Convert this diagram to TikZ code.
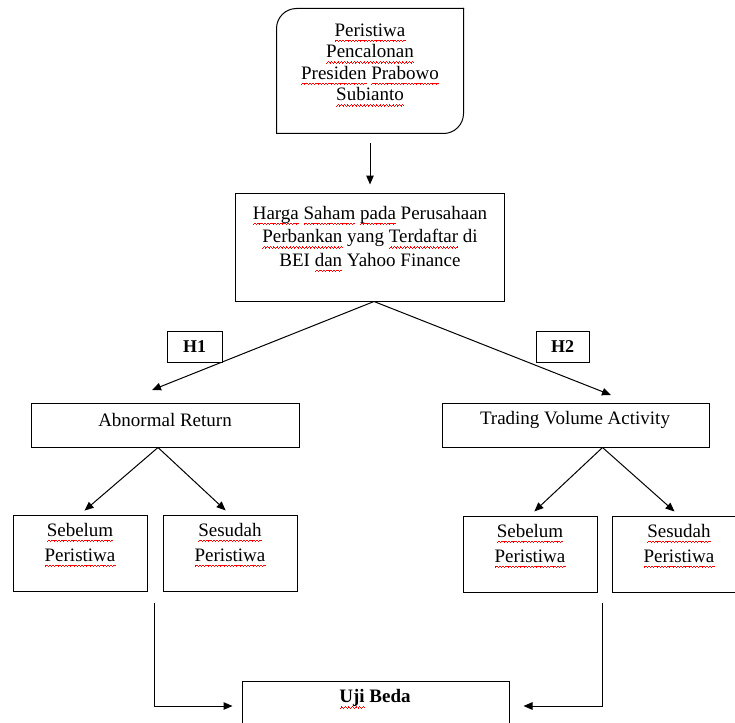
\documentclass[tikz,border=0pt]{standalone}
\usepackage{fontspec}
\setmainfont{Liberation Serif}
\usetikzlibrary{arrows.meta}
\newsavebox\kata
\newcommand\gelombang{\hbox{\rule[-5.6pt]{0.8pt}{0.8pt}\rule[-4.9pt]{0.8pt}{0.8pt}\rule[-4.2pt]{0.8pt}{0.8pt}\rule[-4.9pt]{0.8pt}{0.8pt}}}
\newcommand\salah[1]{\sbox\kata{#1}\rlap{\color{red}\hbox to\wd\kata{\xleaders\gelombang\hfil}}\usebox\kata}

\begin{document}
\begin{tikzpicture}[x=1pt, y=-1pt, line width=1pt,
  kotak/.style={draw, fill=white, inner sep=0pt, anchor=center},
  teks/.style={anchor=center, inner sep=0pt, align=center, font=\fontsize{19}{21.5}\selectfont},
  panah/.style={-{Triangle[length=9pt,width=7.5pt]}}]

  %% ════ 方框 ════
  \node[kotak, draw=none, minimum width=186pt, minimum height=124pt] (peristiwa) at (370,71) {};
  \draw[rounded corners=20pt, line cap=rect] (peristiwa.south west) -- (peristiwa.north west) -- (peristiwa.north east);
  \draw[rounded corners=20pt, line cap=rect] (peristiwa.north east) -- (peristiwa.south east) -- (peristiwa.south west);
  \node[kotak, minimum width=269pt, minimum height=108pt] (harga) at (370,247) {};
  \node[kotak, minimum width=268pt, minimum height=44pt] (ar) at (165,425) {};
  \node[kotak, minimum width=267pt, minimum height=44pt] (tva) at (575.5,425) {};
  \node[kotak, minimum width=134pt, minimum height=76pt] (sb1) at (80,553) {};
  \node[kotak, minimum width=134pt, minimum height=76pt] (ss1) at (230,553) {};
  \node[kotak, minimum width=134pt, minimum height=76pt] (sb2) at (530,554) {};
  \node[kotak, minimum width=134pt, minimum height=76pt] (ss2) at (679,554) {};
  \node[kotak, minimum width=267pt, minimum height=50pt] (uji) at (375.5,706) {};

  %% ════ 箭头 ════
  \coordinate (ujungH1) at (152,390);
  \coordinate (ujungH2) at (611,395);
  \coordinate (turunKiri) at (154,603);
  \coordinate (turunKanan) at (602,603);
  \draw[panah, shorten <=10pt, shorten >=8pt] (peristiwa.south) -- (harga.north);
  \draw[panah] ([xshift=4pt]harga.south) -- (ujungH1);
  \draw[panah] ([xshift=4pt]harga.south) -- (ujungH2);
  \draw[panah, shorten >=6pt] ([xshift=-7pt]ar.south) -- (sb1.north);
  \draw[panah, shorten >=6pt] ([xshift=-7pt]ar.south) -- (ss1.north);
  \draw[panah, shorten >=6pt] ([xshift=27pt]tva.south) -- (sb2.north);
  \draw[panah, shorten >=6pt] ([xshift=27pt]tva.south) -- (ss2.north);
  \draw[panah] (turunKiri) |- ([xshift=-9pt]uji.west);
  \draw[panah] (turunKanan) |- ([xshift=14pt]uji.east);

  %% ════ H1 / H2 ════
  \node[kotak, minimum width=55pt, minimum height=31pt, font=\fontsize{18}{21}\selectfont\bfseries] (tagH1) at (194.5,346.5) {H1};
  \node[kotak, minimum width=53pt, minimum height=31pt, font=\fontsize{18}{21}\selectfont\bfseries] (tagH2) at (562.5,346.5) {H2};

  %% ════ 标签 ════
  \node[teks] (tPeristiwa) at (370,65) {\salah{Peristiwa}\\ \salah{Pencalonan}\\ \salah{Presiden} \salah{Prabowo}\\ \salah{Subianto}};
  \node[teks, font=\fontsize{19}{23.5}\selectfont] (tHarga) at (370,239) {\salah{Harga} \salah{Saham} \salah{pada} Perusahaan\\ \salah{Perbankan} yang \salah{Terdaftar} di\\ BEI \salah{dan} Yahoo Finance};
  \node[teks] (tAr) at (165,420) {Abnormal Return};
  \node[teks] (tTva) at (575,420) {Trading Volume Activity};
  \node[teks, font=\fontsize{19}{25}\selectfont] (tSb1) at (80,545) {\salah{Sebelum}\\ \salah{Peristiwa}};
  \node[teks, font=\fontsize{19}{25}\selectfont] (tSs1) at (230,545) {\salah{Sesudah}\\ \salah{Peristiwa}};
  \node[teks, font=\fontsize{19}{25}\selectfont] (tSb2) at (530,546) {\salah{Sebelum}\\ \salah{Peristiwa}};
  \node[teks, font=\fontsize{19}{25}\selectfont] (tSs2) at (679,546) {\salah{Sesudah}\\ \salah{Peristiwa}};
  \node[teks, font=\fontsize{19}{21.5}\selectfont\bfseries] (tUji) at (375,699) {\salah{Uji} Beda};

  % 画布固定
  \pgfresetboundingbox
  \path[use as bounding box] (0,0) rectangle (735,722);
\end{tikzpicture}
\end{document}
